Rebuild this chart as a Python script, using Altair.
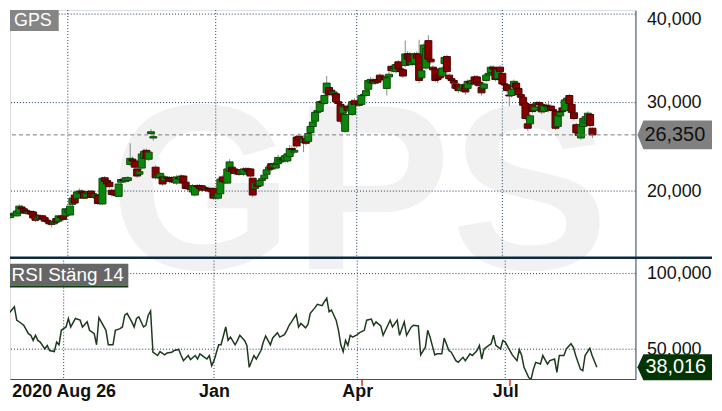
import altair as alt
import pandas as pd

# ---------------- data ----------------
symbol = "GPS"
rsi_title = "RSI Stäng 14"

opens = [17.0,17.4,17.3,17.2,17.5,18.2,18.0,17.8,17.5,17.7,
         17.64,17.3,16.8,16.9,17.2,17.0,16.7,16.6,16.5,16.3,
         16.9,16.6,17.1,17.2,17.2,17.6,17.3,18.5,19.55,19.2,
         19.7,20.0,19.9,19.3,19.7,20.0,19.7,19.3,19.5,18.7,
         18.55,21.5,21.2,21.0,20.1,20.0,19.6,19.4,21.0,21.3,
         21.1,21.2,23.0,23.6,23.4,22.5,21.9,22.6,23.7,24.6,
         23.6,26.5,26.0,22.7,21.6,21.5,21.6,21.2,21.5,21.5,
         21.5,21.2,20.9,21.5,21.3,21.7,21.0,20.6,20.3,19.9,
         19.55,20.6,20.6,20.6,20.4,20.2,20.3,20.3,20.3,19.3,
         19.2,19.7,21.6,21.1,20.9,22.25,22.7,22.5,22.0,22.4,
         22.0,21.9,22.5,22.5,22.5,21.45,20.3,20.8,20.6,21.2,
         21.4,21.9,22.4,23.1,22.7,22.6,23.1,23.3,23.6,23.4,
         23.4,23.9,24.8,24.4,26.1,26.2,25.8,25.5,25.9,25.6,
         26.6,27.3,27.9,28.9,29.0,30.1,29.9,31.1,31.7,31.4,
         31.0,31.0,30.1,29.8,28.8,26.75,29.6,29.1,28.65,30.2,
         29.8,29.9,29.8,30.8,30.8,31.5,32.3,32.5,32.2,32.6,
         33.1,32.6,32.9,31.6,32.9,34.1,33.6,33.5,34.6,33.8,
         33.7,34.2,35.5,35.5,34.3,34.4,35.5,35.5,32.8,35.4,
         33.9,37.0,34.9,34.0,33.8,33.1,33.1,33.0,34.4,35.2,
         33.1,32.7,32.5,32.1,32.0,31.4,31.6,32.0,31.6,32.4,
         32.1,32.9,32.9,32.3,31.7,31.6,32.5,33.1,33.4,34.0,
         33.8,32.7,34.0,33.3,32.1,32.0,30.85,30.8,31.8,32.2,
         31.6,30.9,30.6,29.9,27.6,27.6,29.8,29.1,29.8,30.0,
         29.75,29.0,29.7,29.1,29.6,29.2,29.0,27.3,28.5,29.4,
         29.1,30.3,30.8,29.8,28.85,27.5,26.6,26.0,27.3,27.7,
         28.0,28.65,27.1]

closes = [17.4,17.3,17.5,17.75,18.3,18.0,17.6,17.5,17.7,17.4,
          16.97,16.7,17.0,17.2,16.9,16.6,16.6,16.3,16.25,16.5,
          16.5,17.2,17.0,16.8,18.0,17.9,18.3,19.2,18.65,19.9,
          20.0,19.8,19.2,19.7,19.9,19.3,19.3,19.6,18.6,18.6,
          21.45,21.1,20.8,20.5,19.6,19.6,19.5,20.8,21.3,21.2,
          21.5,21.5,23.7,23.4,22.7,21.7,22.2,24.2,24.5,23.7,
          24.4,26.7,26.15,21.5,21.8,22.0,20.8,21.6,21.4,21.1,
          21.2,21.0,21.6,21.4,21.7,20.9,20.3,20.3,20.2,20.6,
          20.6,20.5,20.3,20.1,20.2,20.3,20.0,20.0,19.2,19.4,
          19.7,21.35,21.1,21.0,22.5,23.3,22.25,22.0,22.1,21.9,
          22.3,22.5,22.4,22.2,21.7,19.55,20.9,20.5,21.2,21.4,
          21.8,22.4,22.7,22.5,23.0,23.0,23.8,23.6,23.5,24.0,
          24.2,24.8,24.7,24.6,25.1,25.8,25.6,25.9,25.4,26.5,
          27.3,27.8,28.9,29.1,30.1,30.0,30.8,32.2,30.9,30.9,
          31.2,30.1,29.9,27.9,29.5,28.65,29.1,29.3,30.1,29.8,
          29.9,29.7,30.8,30.9,31.35,32.5,32.6,32.2,32.4,32.3,
          32.6,32.7,32.6,32.8,33.2,33.6,33.8,34.3,33.8,33.5,
          33.0,35.5,34.9,34.3,34.6,35.5,35.0,32.5,33.6,36.5,
          36.1,34.9,34.6,33.7,32.5,32.6,32.8,33.9,35.1,33.5,
          32.7,32.5,32.2,31.6,31.35,31.7,32.0,31.2,32.4,32.2,
          32.5,32.1,32.3,31.9,31.1,32.1,33.1,33.3,34.0,33.8,
          32.6,33.7,33.5,32.1,32.0,31.35,30.75,31.5,32.4,31.6,
          30.9,30.6,29.7,28.2,27.1,28.5,29.0,29.5,30.0,29.8,
          28.95,29.7,29.6,29.5,29.2,29.1,27.1,28.5,28.9,29.0,
          30.3,30.5,29.9,28.9,28.2,26.6,26.3,27.5,28.2,28.4,
          28.8,27.4,26.35]

highs = [17.6,17.6,17.7,17.9,18.5,18.4,18.1,17.9,17.9,17.8,
         17.8,17.4,17.3,17.4,17.3,17.1,16.9,16.8,16.6,16.8,
         17.1,17.3,17.3,17.3,18.1,18.1,18.4,19.3,19.7,20.0,
         20.3,20.2,20.0,19.9,20.1,20.1,19.9,19.8,19.6,18.9,
         21.6,21.7,21.3,21.1,20.3,20.1,19.8,20.9,21.5,21.5,
         21.6,21.7,25.4,23.9,23.5,22.6,22.4,24.4,24.8,24.8,
         24.6,27.0,26.4,22.9,22.0,22.1,21.7,21.8,21.7,21.7,
         21.7,21.4,21.8,21.7,21.9,21.8,21.1,20.8,20.5,20.8,
         20.7,20.8,20.8,20.7,20.6,20.5,20.5,20.4,20.4,19.6,
         19.9,21.5,21.8,21.3,22.6,23.6,22.9,22.7,22.3,22.5,
         22.5,22.7,22.7,22.7,22.6,21.5,21.0,21.0,21.4,21.6,
         22.0,22.9,23.0,23.2,23.3,23.1,24.1,23.9,23.8,24.3,
         24.5,25.2,25.1,25.0,26.3,26.5,26.1,26.3,26.1,26.7,
         27.5,28.1,29.0,29.4,30.3,30.4,31.0,33.0,31.9,31.6,
         31.4,31.2,30.4,30.0,29.7,28.8,29.8,29.6,30.4,30.5,
         30.2,30.1,31.0,31.2,31.6,32.7,32.9,32.8,32.7,32.8,
         33.3,33.0,33.1,32.9,33.5,34.3,34.1,34.6,34.8,34.0,
         33.9,37.0,35.8,35.7,34.9,35.7,35.8,37.1,33.8,36.7,
         36.3,37.6,35.1,34.2,34.0,33.3,33.4,34.1,35.3,35.4,
         33.3,32.9,32.7,32.3,32.2,32.0,32.2,32.1,32.6,32.6,
         32.9,33.1,33.1,32.5,31.9,32.3,33.3,33.6,34.2,34.2,
         34.0,33.9,34.2,33.5,32.3,32.2,31.2,31.8,32.6,32.4,
         31.8,31.1,30.8,30.1,27.8,28.7,30.0,29.7,30.2,30.2,
         29.9,29.9,29.9,30.2,29.8,29.4,29.1,28.7,29.1,29.6,
         30.5,30.8,31.0,30.0,29.0,27.7,26.8,27.7,28.4,28.6,
         29.0,28.8,27.2]

lows = [16.8,17.1,17.1,17.1,17.4,17.8,17.4,17.3,17.3,17.2,
        16.8,16.5,16.6,16.8,16.7,16.4,16.4,16.1,15.9,16.2,
        16.3,16.4,16.8,16.6,17.0,17.4,17.2,18.3,18.5,19.0,
        19.5,19.6,19.1,19.1,19.5,19.2,19.1,19.1,18.4,18.4,
        18.4,20.9,20.6,20.3,19.4,19.4,19.3,19.3,20.8,21.0,
        20.9,21.0,22.8,23.1,22.5,21.5,21.7,22.4,23.5,23.5,
        23.4,26.3,25.7,21.3,21.4,21.3,20.6,21.0,21.2,20.9,
        21.0,20.8,20.7,21.2,21.1,20.7,20.1,20.1,20.0,19.7,
        19.4,20.3,20.1,19.9,20.0,20.0,19.8,19.8,19.0,19.0,
        19.0,19.6,20.9,20.8,20.8,22.1,22.0,21.8,21.8,21.7,
        21.8,21.7,22.2,22.0,21.5,19.3,20.1,20.3,20.5,21.0,
        21.2,21.8,22.2,22.3,22.5,22.4,22.9,23.1,23.2,23.2,
        23.2,23.7,24.4,24.2,24.9,25.6,25.4,24.4,25.2,25.4,
        26.4,27.1,27.7,28.6,28.8,29.7,29.7,30.9,30.7,30.7,
        30.8,29.9,29.6,27.6,28.6,26.6,28.9,28.9,28.5,29.6,
        29.5,29.5,29.6,30.6,30.6,31.3,32.1,32.0,32.0,32.1,
        32.4,32.4,32.4,30.8,32.7,33.4,33.4,33.3,33.6,33.2,
        32.8,34.0,34.7,34.1,34.1,34.2,34.8,32.2,32.6,35.2,
        33.7,34.7,34.3,33.4,32.3,32.2,32.6,32.8,34.2,33.2,
        32.5,31.6,32.0,31.3,31.1,31.2,31.4,30.9,31.4,32.0,
        31.9,31.9,32.1,31.7,30.8,31.4,32.3,32.9,33.2,33.6,
        32.4,32.5,33.2,31.9,31.7,31.1,29.6,30.6,31.6,31.4,
        30.7,30.4,29.5,28.0,26.8,27.4,28.8,28.9,29.6,29.6,
        28.7,28.8,29.4,28.9,29.0,28.9,26.9,27.1,28.3,28.8,
        28.9,30.1,29.7,28.7,28.0,26.4,26.0,25.8,27.1,27.5,
        27.8,27.2,26.0]

rsi_day = [0,1,2,4,5,7,8,10,11,12,13,14,15,17,18,19,21,22,23,24,
           26,27,28,30,32,33,35,36,38,39,40,41,43,44,46,47,49,50,51,52,
           54,55,56,57,59,60,61,62,63,65,66,68,69,71,72,74,75,76,78,79,
           81,82,83,85,86,87,88,89,91,92,94,95,96,98,99,100,102,103,104,106,
           107,109,110,111,113,114,116,117,119,120,121,122,124,125,126,128,129,130,132,133,
           135,136,137,138,139,141,142,143,144,145,146,147,148,150,151,153,154,156,157,158,
           160,161,163,164,165,167,168,170,171,173,174,176,177,179,180,181,183,184,186,187,
           189,190,192,193,195,196,198,199,201,202,203,204,206,207,208,209,211,212,213,215,
           216,218,219,220,221,223,224,225,226,228,229,231,232,234,235,236,238,239,241,242,
           243,245,246,247,249,250,252]
rsi_val = [74.3,75.2,74.3,78.1,69.2,67.0,65.8,60.3,59.2,55.8,59.2,55.8,54.7,50.2,52.5,49.1,48.4,54.7,52.9,62.5,
           64.7,70.3,64.7,70.3,69.2,64.7,68.1,62.5,60.3,52.9,70.8,68.1,62.5,52.9,52.9,62.5,63.6,64.7,72.5,73.7,
           68.1,64.7,70.3,71.4,64.7,65.8,72.5,75.2,48.0,45.8,48.4,46.2,47.5,48.0,49.1,49.8,45.8,42.4,45.8,43.1,
           45.8,43.5,46.9,44.6,43.5,45.8,39.1,42.4,52.9,52.9,64.7,55.8,58.0,52.9,55.8,59.2,55.8,52.5,38.0,45.8,
           43.5,49.1,54.7,58.7,52.9,57.4,60.9,58.0,59.6,62.5,65.8,68.1,73.0,64.7,67.0,64.1,66.3,73.7,77.5,79.7,
           78.8,81.5,83.7,74.8,75.9,69.2,62.5,52.9,48.4,55.8,52.5,59.2,58.0,59.6,60.9,62.5,69.2,69.9,65.8,68.1,
           65.4,59.2,65.8,69.2,64.7,69.2,59.2,68.1,59.2,64.7,65.8,65.4,46.2,51.3,62.5,58.0,46.2,46.9,46.9,57.4,
           49.1,48.0,42.4,41.3,44.6,42.4,46.9,45.8,49.1,52.5,43.5,50.2,52.5,53.6,59.2,52.5,50.2,55.8,54.7,49.1,
           46.2,42.4,49.8,45.8,38.0,31.2,30.1,36.8,41.3,40.2,45.8,40.2,42.4,43.5,34.6,45.8,45.8,50.2,53.6,51.3,
           45.8,36.8,35.7,45.8,50.7,45.8,38.016]

tick_days = [25, 89, 150, 213]
tick_labels = ["2020 Aug 26", "Jan", "Apr", "Jul"]
price_ticks = [20, 30, 40]
rsi_ticks = [50, 100]
dividend_days = [152, 215]

# ---------------- styling ----------------
W, H1, H2 = 629, 249, 122
RIGHT = 77            # room right of the plot (svg stays <= 706 px wide)
FONT = "Liberation Sans"
GRID = "#1b3856"
FRAME = "#34506e"
UP, UP_EDGE = "#0a870a", "#0b4a0b"
DOWN, DOWN_EDGE = "#870000", "#480000"

candles = pd.DataFrame({"i": list(range(len(closes))), "o": opens, "h": highs, "l": lows, "c": closes})
rsi = pd.DataFrame({"i": rsi_day, "r": rsi_val})
last_price = pd.DataFrame({"p": [closes[-1]]})
last_rsi = pd.DataFrame({"p": [rsi_val[-1]]})
xticks = pd.DataFrame({"t": tick_days})
pticks = pd.DataFrame({"v": price_ticks})
rticks = pd.DataFrame({"v": rsi_ticks})
divs = pd.DataFrame({"d": dividend_days})
one = pd.DataFrame({"k": [0]})

xs = alt.Scale(domain=[2.138, 268.44], nice=False, zero=False)
ps = alt.Scale(domain=[12.472, 40.449], nice=False, zero=False)
rs = alt.Scale(domain=[30.26, 110.53], nice=False, zero=False)

comma = "replace(format(datum.value, '.3f'), '.', ',')"
label_expr = " : ".join(f"datum.value == {d} ? '{t}'" for d, t in zip(tick_days, tick_labels)) + " : ''"

ax_top_x = alt.Axis(values=tick_days, labels=False, ticks=False, domain=False, grid=False, title=None)
ax_right = dict(orient="right", grid=False, ticks=False, domain=True, domainColor=FRAME, domainWidth=1,
                labelFont=FONT, labelFontSize=18, labelColor="#111111", labelPadding=11,
                labelExpr=comma, labelOverlap=False, title=None)
# the top label sits at the very edge of the plot: nudge it so it stays inside the page
ax_top_y = alt.Axis(values=price_ticks,
                    labelOffset={"condition": {"test": f"datum.value == {max(price_ticks)}", "value": 5},
                                 "value": 0},
                    **ax_right)
ax_bot_y = alt.Axis(values=rsi_ticks, **ax_right)
ax_bot_x = alt.Axis(values=tick_days, labelExpr=label_expr, labelFont=FONT, labelFontSize=18,
                    labelFontWeight="bold", labelColor="#111111", labelPadding=4, ticks=False,
                    domain=True, domainColor=FRAME, domainWidth=1, grid=False, title=None,
                    labelOverlap=False, labelFlush=False)

BOXW = RIGHT - 2
HALF = BOXW / 2.0


def arrow_box(px_half_height):
    h = round(px_half_height / HALF, 3)
    k = round(1 - 6 / HALF, 3)
    return f"M -1 0 L {-k} {-h} L 1 {-h} L 1 {h} L {-k} {h} Z"


# ---------------- top panel: candlesticks ----------------
watermark = alt.Chart(one).mark_text(
    text=symbol, font=FONT, fontSize=238, fontWeight="bold", color="#f1f1f1",
    align="center", baseline="alphabetic"
).encode(x=alt.value(351), y=alt.value(H1 + 11))

vgrid_top = alt.Chart(xticks).mark_rule(color=GRID, strokeDash=[1, 2], strokeWidth=1).encode(
    x=alt.X("t:Q", scale=xs, axis=ax_top_x))
hgrid_top = alt.Chart(pticks).mark_rule(color=GRID, strokeDash=[1, 2], strokeWidth=1).encode(
    y=alt.Y("v:Q", scale=ps, axis=ax_top_y))

wicks = alt.Chart(candles).mark_rule(color="#8a8a8a", strokeWidth=1, clip=True).encode(
    x=alt.X("i:Q", scale=xs, axis=ax_top_x),
    y=alt.Y("l:Q", scale=ps, axis=ax_top_y),
    y2="h:Q")

bodies = alt.Chart(candles).mark_bar(width=7, strokeWidth=1, clip=True).encode(
    x=alt.X("i:Q", scale=xs, axis=ax_top_x),
    y=alt.Y("o:Q", scale=ps, axis=ax_top_y),
    y2="c:Q",
    fill=alt.condition("datum.c >= datum.o", alt.value(UP), alt.value(DOWN)),
    stroke=alt.condition("datum.c >= datum.o", alt.value(UP_EDGE), alt.value(DOWN_EDGE)))

last_line = alt.Chart(last_price).mark_rule(color="#7a7a7a", strokeDash=[4, 3], strokeWidth=1).encode(
    y=alt.Y("p:Q", scale=ps, axis=ax_top_y))

price_box = alt.Chart(last_price).mark_point(
    shape=arrow_box(14.5), size=BOXW * BOXW, filled=True, color="#808080", opacity=1, strokeWidth=0
).encode(x=alt.value(W + 2 + HALF), y=alt.Y("p:Q", scale=ps, axis=ax_top_y))

price_text = alt.Chart(last_price).transform_calculate(
    lbl="replace(format(datum.p, '.3f'), '.', ',')"
).mark_text(align="left", baseline="middle", font=FONT, fontSize=20, color="#111111").encode(
    x=alt.value(W + 9), y=alt.Y("p:Q", scale=ps, axis=ax_top_y), text="lbl:N")

sym_box = alt.Chart(one).mark_rect(color="#858585").encode(
    x=alt.value(0), x2=alt.value(49), y=alt.value(0), y2=alt.value(21))
sym_text = alt.Chart(one).mark_text(
    text=symbol, font=FONT, fontSize=18, color="white", align="center", baseline="middle"
).encode(x=alt.value(23), y=alt.value(10.5))

top = alt.layer(watermark, vgrid_top, hgrid_top, wicks, bodies, last_line,
                price_box, price_text, sym_box, sym_text).properties(width=W, height=H1)

# ---------------- bottom panel: RSI ----------------
vgrid_bot = alt.Chart(xticks).mark_rule(color=GRID, strokeDash=[1, 2], strokeWidth=1).encode(
    x=alt.X("t:Q", scale=xs, axis=ax_bot_x))
hgrid_bot = alt.Chart(rticks).mark_rule(color=GRID, strokeDash=[1, 2], strokeWidth=1).encode(
    y=alt.Y("v:Q", scale=rs, axis=ax_bot_y))

rsi_line = alt.Chart(rsi).mark_line(color="#1c3a1c", strokeWidth=1.5, clip=True).encode(
    x=alt.X("i:Q", scale=xs, axis=ax_bot_x),
    y=alt.Y("r:Q", scale=rs, axis=ax_bot_y))

div_ticks = alt.Chart(divs).mark_rule(color="#f05a5a", strokeWidth=2).encode(
    x=alt.X("d:Q", scale=xs, axis=ax_bot_x), y=alt.value(H2 + 1), y2=alt.value(H2 + 7))

separator = alt.Chart(one).mark_rule(color="#0e2a3d", strokeWidth=2.5).encode(
    x=alt.value(0), x2=alt.value(W + RIGHT), y=alt.value(0))

rsi_box = alt.Chart(last_rsi).mark_point(
    shape=arrow_box(13), size=BOXW * BOXW, filled=True, color="#033503", opacity=1, strokeWidth=0
).encode(x=alt.value(W + 2 + HALF), y=alt.Y("p:Q", scale=rs, axis=ax_bot_y))

rsi_text = alt.Chart(last_rsi).transform_calculate(
    lbl="replace(format(datum.p, '.3f'), '.', ',')"
).mark_text(align="left", baseline="middle", font=FONT, fontSize=20, color="white").encode(
    x=alt.value(W + 10), y=alt.Y("p:Q", scale=rs, axis=ax_bot_y), text="lbl:N")

title_box = alt.Chart(one).mark_rect(color="#666666").encode(
    x=alt.value(0), x2=alt.value(119), y=alt.value(6), y2=alt.value(28))
title_line = alt.Chart(one).mark_rect(color="#0a3a0a").encode(
    x=alt.value(0), x2=alt.value(119), y=alt.value(28), y2=alt.value(30))
title_text = alt.Chart(one).mark_text(
    text=rsi_title, font=FONT, fontSize=19, color="white", align="center", baseline="middle"
).encode(x=alt.value(58), y=alt.value(17))

bottom = alt.layer(vgrid_bot, hgrid_bot, rsi_line, div_ticks, separator,
                   rsi_box, rsi_text, title_box, title_line, title_text).properties(width=W, height=H2)

chart = alt.vconcat(top, bottom, spacing=0, padding=0, bounds="flush").configure_view(
    strokeWidth=0).configure(background="white")

chart.save("out.html", embed_options={"renderer": "svg", "actions": False})
